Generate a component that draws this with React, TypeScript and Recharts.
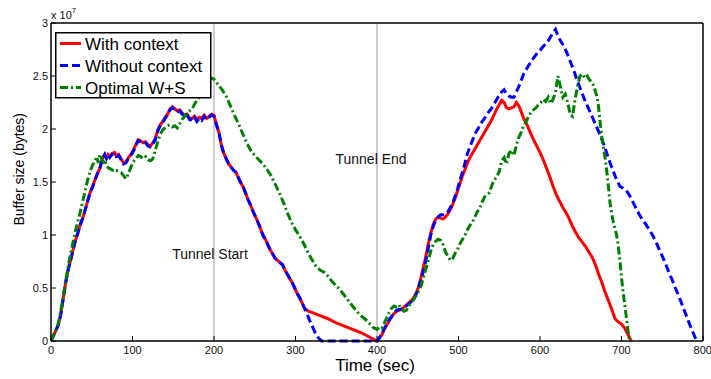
import React from 'react';
import { LineChart, Line, XAxis, YAxis, ReferenceLine, Legend } from 'recharts';

const xTicks = [0, 100, 200, 300, 400, 500, 600, 700, 800];
const yTicks = [0, 0.5, 1, 1.5, 2, 2.5, 3];
const tunnelStart = 200;
const tunnelEnd = 400;

// [time (sec), buffer size (x 1e7 bytes)]
const withContext: [number, number][] = [
  [0, 0], [3, 0.05], [6, 0.1], [9, 0.15], [12, 0.25], [15, 0.4], [18, 0.55], [21, 0.67], [24, 0.76], [27, 0.86],
  [30, 0.95], [33, 1.02], [36, 1.1], [39, 1.16], [42, 1.24], [45, 1.32], [48, 1.4], [51, 1.46], [54, 1.52], [57, 1.58],
  [60, 1.63], [63, 1.72], [66, 1.76], [68, 1.73], [70, 1.76], [72, 1.74], [75, 1.77], [78, 1.78], [80, 1.75], [83, 1.76],
  [86, 1.72], [89, 1.68], [92, 1.69], [95, 1.73], [98, 1.76], [101, 1.8], [104, 1.85], [107, 1.9], [110, 1.89], [113, 1.87],
  [116, 1.88], [119, 1.85], [122, 1.84], [125, 1.87], [128, 1.91], [131, 1.99], [134, 2.04], [137, 2.07], [140, 2.11], [143, 2.14],
  [146, 2.19], [149, 2.21], [152, 2.19], [155, 2.17], [158, 2.18], [161, 2.15], [164, 2.13], [167, 2.14], [170, 2.1], [173, 2.1],
  [176, 2.12], [179, 2.09], [182, 2.11], [185, 2.1], [188, 2.13], [191, 2.1], [194, 2.12], [197, 2.14], [200, 2.13],
  [203, 2.04], [206, 1.97], [209, 1.85], [212, 1.77], [215, 1.72], [218, 1.67], [221, 1.64], [224, 1.61], [227, 1.59], [230, 1.54],
  [233, 1.49], [236, 1.45], [239, 1.39], [242, 1.33], [245, 1.28], [248, 1.22], [251, 1.17], [254, 1.12], [257, 1.06], [260, 1.0],
  [263, 0.96], [266, 0.91], [269, 0.86], [272, 0.82], [275, 0.78], [278, 0.76], [281, 0.74], [284, 0.72], [287, 0.67], [290, 0.63],
  [293, 0.59], [296, 0.55], [299, 0.5], [302, 0.45], [305, 0.41], [308, 0.36], [311, 0.31], [316, 0.28], [320, 0.27], [330, 0.24],
  [340, 0.21], [350, 0.17], [360, 0.14], [370, 0.11], [380, 0.08], [390, 0.04], [400, 0.0],
  [403, 0.03], [406, 0.06], [409, 0.11], [412, 0.15], [415, 0.19], [418, 0.23], [421, 0.26], [424, 0.28], [427, 0.29], [430, 0.3],
  [433, 0.32], [436, 0.34], [439, 0.36], [442, 0.38], [445, 0.41], [448, 0.45], [451, 0.51], [454, 0.6], [457, 0.7], [460, 0.8],
  [463, 0.92], [466, 1.02], [469, 1.1], [472, 1.15], [475, 1.17], [478, 1.16], [481, 1.15], [484, 1.17], [487, 1.2], [490, 1.24],
  [493, 1.29], [496, 1.35], [499, 1.42], [502, 1.49], [505, 1.56], [508, 1.62], [511, 1.68], [514, 1.73], [517, 1.77], [520, 1.81],
  [523, 1.85], [526, 1.89], [529, 1.93], [532, 1.97], [535, 2.01], [538, 2.05], [541, 2.09], [544, 2.14], [547, 2.19], [550, 2.23],
  [553, 2.27], [556, 2.25], [559, 2.2], [562, 2.19], [565, 2.2], [568, 2.21], [571, 2.25], [574, 2.22], [577, 2.16], [580, 2.1],
  [584, 2.04], [588, 1.97], [592, 1.9], [596, 1.84], [600, 1.78], [604, 1.71], [608, 1.63], [612, 1.55], [616, 1.46], [620, 1.38],
  [624, 1.32], [628, 1.26], [632, 1.21], [636, 1.15], [640, 1.08], [644, 1.02], [648, 0.97], [652, 0.93], [656, 0.89], [660, 0.84],
  [664, 0.79], [668, 0.72], [672, 0.63], [676, 0.55], [680, 0.46], [684, 0.38], [688, 0.3], [692, 0.21], [696, 0.18], [700, 0.16],
  [704, 0.12], [708, 0.06], [712, 0.0],
];

const withoutContext: [number, number][] = [
  [0, 0], [3, 0.05], [6, 0.1], [9, 0.15], [12, 0.25], [15, 0.4], [18, 0.55], [21, 0.67], [24, 0.76], [27, 0.86],
  [30, 0.95], [33, 1.02], [36, 1.1], [39, 1.16], [42, 1.24], [45, 1.32], [48, 1.4], [51, 1.45], [54, 1.52], [57, 1.58],
  [60, 1.63], [63, 1.72], [66, 1.76], [68, 1.72], [70, 1.75], [72, 1.73], [75, 1.76], [78, 1.77], [80, 1.74], [83, 1.75],
  [86, 1.71], [89, 1.67], [92, 1.68], [95, 1.72], [98, 1.75], [101, 1.79], [104, 1.84], [107, 1.89], [110, 1.88], [113, 1.86],
  [116, 1.87], [119, 1.84], [122, 1.83], [125, 1.86], [128, 1.9], [131, 1.98], [134, 2.03], [137, 2.06], [140, 2.1], [143, 2.13],
  [146, 2.18], [149, 2.2], [152, 2.18], [155, 2.16], [158, 2.17], [161, 2.14], [164, 2.12], [167, 2.13], [170, 2.09], [173, 2.08],
  [176, 2.11], [179, 2.07], [182, 2.1], [185, 2.08], [188, 2.12], [191, 2.09], [194, 2.11], [197, 2.13], [200, 2.12],
  [203, 2.04], [206, 1.97], [209, 1.85], [212, 1.77], [215, 1.72], [218, 1.67], [221, 1.64], [224, 1.61], [227, 1.59], [230, 1.54],
  [233, 1.49], [236, 1.45], [239, 1.39], [242, 1.33], [245, 1.28], [248, 1.22], [251, 1.17], [254, 1.12], [257, 1.06], [260, 1.0],
  [263, 0.96], [266, 0.91], [269, 0.86], [272, 0.82], [275, 0.78], [278, 0.76], [281, 0.74], [284, 0.72], [287, 0.67], [290, 0.63],
  [293, 0.59], [296, 0.55], [299, 0.5], [302, 0.45], [305, 0.41], [308, 0.36], [311, 0.31], [314, 0.26], [317, 0.2], [320, 0.15],
  [324, 0.08], [328, 0.03], [332, 0.0], [400, 0.0],
  [403, 0.03], [406, 0.07], [409, 0.12], [412, 0.16], [415, 0.2], [418, 0.23], [421, 0.27], [424, 0.29], [427, 0.3], [430, 0.3],
  [433, 0.32], [436, 0.33], [439, 0.35], [442, 0.37], [445, 0.4], [448, 0.44], [451, 0.5], [454, 0.58], [457, 0.66], [460, 0.76],
  [463, 0.88], [466, 1.0], [469, 1.08], [472, 1.14], [475, 1.17], [478, 1.19], [481, 1.19], [484, 1.2], [487, 1.22], [490, 1.26],
  [493, 1.3], [496, 1.37], [499, 1.44], [502, 1.52], [505, 1.6], [508, 1.68], [511, 1.77], [514, 1.83], [517, 1.89], [520, 1.95],
  [523, 1.99], [526, 2.03], [529, 2.07], [532, 2.1], [535, 2.14], [538, 2.17], [541, 2.2], [544, 2.24], [547, 2.28], [550, 2.32],
  [553, 2.35], [556, 2.37], [559, 2.33], [562, 2.31], [565, 2.3], [568, 2.3], [571, 2.35], [574, 2.4], [577, 2.46], [580, 2.52],
  [583, 2.56], [586, 2.6], [589, 2.63], [592, 2.67], [595, 2.7], [598, 2.73], [601, 2.75], [604, 2.78], [607, 2.8], [610, 2.83],
  [613, 2.87], [616, 2.91], [619, 2.94], [622, 2.88], [626, 2.82], [630, 2.77], [634, 2.7], [638, 2.62], [642, 2.54], [646, 2.45],
  [650, 2.37], [654, 2.29], [658, 2.22], [662, 2.15], [666, 2.08], [670, 2.01], [674, 1.94], [678, 1.86], [682, 1.77], [686, 1.68],
  [690, 1.6], [694, 1.52], [698, 1.46], [702, 1.44], [706, 1.42], [710, 1.37], [714, 1.31], [718, 1.25], [722, 1.19], [726, 1.14],
  [730, 1.1], [734, 1.05], [738, 1.0], [742, 0.94], [746, 0.87], [750, 0.8], [754, 0.73], [758, 0.65], [762, 0.58], [766, 0.5],
  [770, 0.43], [774, 0.35], [778, 0.27], [782, 0.19], [786, 0.11], [790, 0.04], [792, 0.0],
];

const optimalWS: [number, number][] = [
  [0, 0], [3, 0.05], [6, 0.1], [9, 0.17], [12, 0.28], [15, 0.42], [18, 0.57], [21, 0.7], [24, 0.82], [27, 0.93],
  [30, 1.04], [33, 1.13], [36, 1.22], [39, 1.32], [42, 1.42], [45, 1.52], [48, 1.6], [51, 1.66], [54, 1.7], [56, 1.74],
  [58, 1.68], [60, 1.76], [62, 1.72], [64, 1.69], [66, 1.71], [68, 1.65], [71, 1.63], [74, 1.62], [77, 1.6], [80, 1.61],
  [83, 1.6], [86, 1.59], [89, 1.56], [92, 1.53], [95, 1.58], [98, 1.64], [101, 1.69], [104, 1.72], [107, 1.75], [110, 1.74],
  [113, 1.72], [116, 1.74], [119, 1.71], [122, 1.7], [125, 1.72], [128, 1.8], [131, 1.88], [134, 1.95], [137, 1.99], [140, 2.01],
  [143, 2.03], [146, 2.04], [149, 2.02], [152, 2.03], [155, 2.01], [158, 2.05], [161, 2.09], [164, 2.12], [167, 2.15], [170, 2.17],
  [173, 2.19], [176, 2.23], [179, 2.27], [182, 2.3], [185, 2.35], [188, 2.4], [191, 2.44], [194, 2.47], [197, 2.48], [200, 2.47],
  [205, 2.42], [210, 2.37], [215, 2.31], [220, 2.22], [225, 2.13], [230, 2.05], [235, 1.96], [240, 1.87], [245, 1.8], [250, 1.75],
  [255, 1.71], [260, 1.67], [265, 1.62], [270, 1.56], [275, 1.48], [280, 1.4], [285, 1.31], [290, 1.21], [295, 1.12], [300, 1.05],
  [305, 0.99], [310, 0.92], [315, 0.84], [320, 0.77], [325, 0.71], [330, 0.67], [335, 0.65], [340, 0.61], [345, 0.56], [350, 0.52],
  [355, 0.48], [360, 0.43], [365, 0.38], [370, 0.33], [375, 0.28], [380, 0.24], [385, 0.21], [390, 0.17], [395, 0.13], [400, 0.11],
  [403, 0.13], [406, 0.12], [409, 0.17], [412, 0.22], [415, 0.27], [418, 0.31], [421, 0.33], [424, 0.32], [427, 0.34], [430, 0.3],
  [433, 0.28], [436, 0.29], [439, 0.33], [442, 0.36], [445, 0.39], [448, 0.43], [451, 0.47], [454, 0.52], [457, 0.6], [460, 0.68],
  [463, 0.76], [466, 0.85], [469, 0.91], [472, 0.94], [475, 0.96], [478, 0.95], [481, 0.91], [484, 0.84], [487, 0.8], [490, 0.76],
  [493, 0.78], [496, 0.83], [499, 0.87], [502, 0.92], [505, 0.96], [508, 1.0], [511, 1.05], [514, 1.09], [517, 1.12], [520, 1.17],
  [523, 1.22], [526, 1.25], [529, 1.31], [532, 1.36], [535, 1.38], [538, 1.4], [541, 1.47], [544, 1.52], [547, 1.55], [550, 1.6],
  [553, 1.7], [556, 1.73], [559, 1.67], [562, 1.77], [565, 1.8], [568, 1.75], [571, 1.85], [574, 1.92], [577, 1.97], [580, 2.03],
  [583, 2.07], [586, 2.12], [589, 2.16], [592, 2.18], [595, 2.2], [598, 2.23], [601, 2.25], [604, 2.28], [607, 2.26], [610, 2.3],
  [613, 2.24], [616, 2.28], [619, 2.35], [622, 2.5], [625, 2.4], [628, 2.3], [631, 2.33], [634, 2.25], [637, 2.14], [640, 2.12],
  [643, 2.28], [646, 2.4], [649, 2.5], [652, 2.52], [655, 2.48], [658, 2.5], [661, 2.46], [664, 2.44], [667, 2.38], [670, 2.3],
  [672, 2.2], [674, 2.05], [676, 1.92], [678, 1.82], [680, 1.72], [682, 1.6], [684, 1.45], [686, 1.3], [688, 1.2], [690, 1.12],
  [692, 1.06], [694, 1.0], [696, 0.9], [698, 0.76], [700, 0.6], [702, 0.46], [704, 0.34], [706, 0.22], [708, 0.1], [710, 0.0],
];

const seriesNames = ['With context', 'Without context', 'Optimal W+S'];
const seriesColors = ['#ff0000', '#0000ff', '#008000'];
const seriesDash = ['', '8 4', '8 3 2 3'];

const toRows = (pairs: [number, number][]) => pairs.map(([t, v]) => ({ t, v }));

const FONT = 'Arial, "Liberation Sans", Helvetica, sans-serif';

const LegendBox = () => (
  <svg width={157} height={67} style={{ display: 'block' }}>
    <rect x={0.75} y={0.75} width={155} height={65} fill="#fff" stroke="#000" strokeWidth={1.5} />
    {seriesNames.map((name, i) => {
      const cy = 11.5 + i * 22;
      return (
        <g key={name}>
          <line x1={5} x2={26} y1={cy} y2={cy} stroke={seriesColors[i]} strokeWidth={3} strokeDasharray={seriesDash[i] || undefined} />
          <text x={30} y={cy + 6} fontSize={17} fontFamily={FONT} fill="#000">{name}</text>
        </g>
      );
    })}
  </svg>
);

const tickStyle = { fontSize: 11, fill: '#111', fontFamily: FONT };

export default function App() {
  return (
    <div style={{ position: 'absolute', left: 0, top: 0, width: 711, height: 379, background: '#fff', fontFamily: FONT }}>
      <LineChart width={711} height={379} margin={{ top: 22, right: 7, bottom: 0, left: 0 }}>
        <XAxis
          dataKey="t"
          type="number"
          domain={[0, 800]}
          ticks={xTicks}
          allowDataOverflow
          height={38}
          tickSize={-5}
          tickMargin={10}
          tick={tickStyle}
          axisLine={{ stroke: '#000', strokeWidth: 1.5 }}
          tickLine={{ stroke: '#000' }}
          label={{
            content: (p: any) => {
              const vb = p.viewBox || {};
              return (
                <text x={vb.x + vb.width / 2 - 2} y={371} textAnchor="middle" fontSize={17} fontFamily={FONT} fill="#000">
                  Time (sec)
                </text>
              );
            },
          }}
        />
        <XAxis
          xAxisId="top"
          orientation="top"
          dataKey="t"
          type="number"
          domain={[0, 800]}
          ticks={xTicks}
          height={1}
          tickSize={-5}
          tickFormatter={() => ''}
          axisLine={{ stroke: '#000', strokeWidth: 1.5 }}
          tickLine={{ stroke: '#000' }}
          label={{
            content: () => (
              <text x={51} y={19} fontSize={11} fontFamily={FONT} fill="#111">
                x 10<tspan dy={-6} fontSize={8}>7</tspan>
              </text>
            ),
          }}
        />
        <YAxis
          type="number"
          domain={[0, 3]}
          ticks={yTicks}
          width={51}
          tickSize={-5}
          tickMargin={8}
          tick={tickStyle}
          tickFormatter={(v: number) => String(v)}
          axisLine={{ stroke: '#000', strokeWidth: 1.5 }}
          tickLine={{ stroke: '#000' }}
          label={{
            content: (p: any) => {
              const vb = p.viewBox || {};
              const cx = 24;
              const cy = vb.y + vb.height * 0.46;
              return (
                <text x={cx} y={cy} transform={`rotate(-90 ${cx} ${cy})`} textAnchor="middle" fontSize={14} fontFamily={FONT} fill="#000">
                  Buffer size (bytes)
                </text>
              );
            },
          }}
        />
        <YAxis
          yAxisId="right"
          orientation="right"
          type="number"
          domain={[0, 3]}
          ticks={yTicks}
          width={1}
          tickSize={-5}
          tickFormatter={() => ''}
          axisLine={{ stroke: '#000', strokeWidth: 1.5 }}
          tickLine={{ stroke: '#000' }}
        />
        <ReferenceLine
          x={tunnelStart}
          stroke="#999"
          strokeWidth={1}
          label={{
            content: (p: any) => {
              const vb = p.viewBox || {};
              return (
                <text x={vb.x - 4} y={vb.y + vb.height * 0.742} textAnchor="middle" fontSize={14} fontFamily={FONT} fill="#111">
                  Tunnel Start
                </text>
              );
            },
          }}
        />
        <ReferenceLine
          x={tunnelEnd}
          stroke="#999"
          strokeWidth={1}
          label={{
            content: (p: any) => {
              const vb = p.viewBox || {};
              return (
                <text x={vb.x - 6} y={vb.y + vb.height * 0.443} textAnchor="middle" fontSize={14} fontFamily={FONT} fill="#111">
                  Tunnel End
                </text>
              );
            },
          }}
        />
        <Line data={toRows(withContext)} dataKey="v" name={seriesNames[0]} type="linear" stroke={seriesColors[0]} strokeWidth={3} dot={false} isAnimationActive={false} />
        <Line data={toRows(withoutContext)} dataKey="v" name={seriesNames[1]} type="linear" stroke={seriesColors[1]} strokeWidth={3} strokeDasharray={seriesDash[1]} dot={false} isAnimationActive={false} />
        <Line data={toRows(optimalWS)} dataKey="v" name={seriesNames[2]} type="linear" stroke={seriesColors[2]} strokeWidth={3} strokeDasharray={seriesDash[2]} dot={false} isAnimationActive={false} />
        <Legend
          layout="vertical"
          align="center"
          verticalAlign="middle"
          content={() => <LegendBox />}
          wrapperStyle={{ position: 'absolute', left: 55, top: 32, width: 157, height: 67, margin: 0, padding: 0 }}
        />
      </LineChart>
    </div>
  );
}
